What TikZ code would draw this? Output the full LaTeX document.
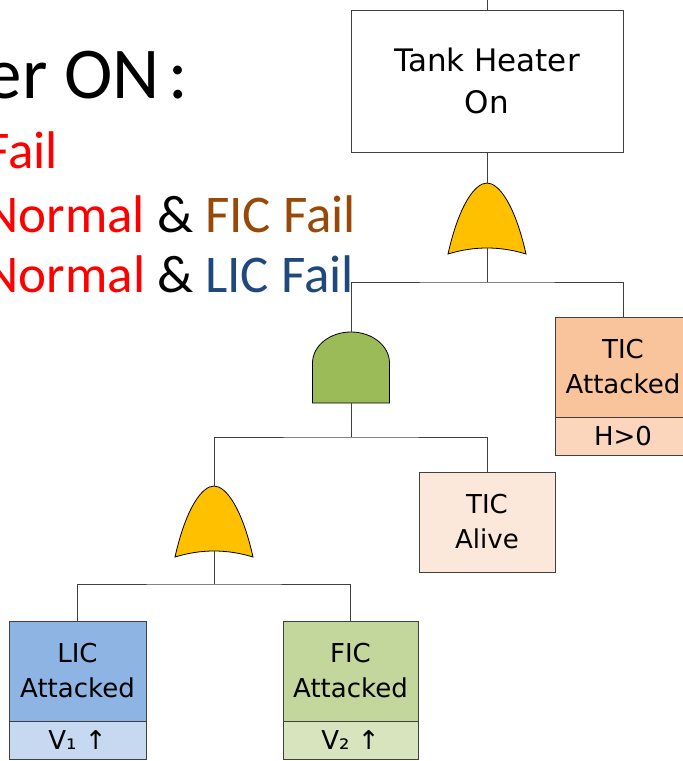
\documentclass[tikz,border=0pt]{standalone}
\usepackage{fontspec}
\newfontfamily\boxfont{DejaVu Sans}
\newfontfamily\calfont{Carlito}
\definecolor{orfill}{HTML}{FFC000}
\definecolor{andfill}{HTML}{9BBB59}
\definecolor{licA}{HTML}{8EB4E3}
\definecolor{licB}{HTML}{C6D9F1}
\definecolor{ficA}{HTML}{C3D69B}
\definecolor{ficB}{HTML}{D7E4BD}
\definecolor{ticA}{HTML}{F9C39C}
\definecolor{ticB}{HTML}{FBD6BC}
\definecolor{ticC}{HTML}{FCE8DA}
\definecolor{brownT}{HTML}{984807}
\definecolor{blueT}{HTML}{1F497D}
\definecolor{lineC}{HTML}{404040}
\tikzset{
  wire/.style={draw=lineC, line width=1pt},
  evbox/.style={draw=lineC, line width=1pt, rectangle, inner sep=0pt, outer sep=0pt,
    align=center, font=\boxfont\fontsize{26}{35}\selectfont},
  subbox/.style={evbox, minimum height=38pt},
  bigtxt/.style={anchor=base east, inner sep=0pt, font=\calfont\fontsize{73}{80}\selectfont},
  midtxt/.style={anchor=base east, inner sep=0pt, font=\calfont\fontsize{53}{60}\selectfont},
  orgate/.pic={
    \draw[fill=orfill, draw=black, line width=0.8pt]
      (-39,71) .. controls (-28,22) and (-12,0) .. (0,0)
      .. controls (12,0) and (28,22) .. (39,71)
      .. controls (13,63) and (-13,63) .. cycle;
  },
  andgate/.pic={
    \draw[fill=andfill, draw=black, line width=0.8pt]
      (-38.5,71) -- (-38.5,31)
      .. controls (-38.5,13.9) and (-21.3,0) .. (0,0)
      .. controls (21.3,0) and (38.5,13.9) .. (38.5,31)
      -- (38.5,71) -- cycle;
  }
}
\begin{document}
\begin{tikzpicture}[x=1pt, y=-1pt]
\useasboundingbox (0,0) rectangle (683,761);
\clip (0,0) rectangle (683,761);

% left text
\node[bigtxt] (t0) at (188,98) {er ON\hspace{0.12em}:};
\node[midtxt, text=red] (t1) at (58,168) {Fail};
\node[midtxt] (t2) at (356,232) {\textcolor{red}{Normal} \& \textcolor{brownT}{FIC Fail}};
\node[midtxt] (t3) at (354,292) {\textcolor{red}{Normal} \& \textcolor{blueT}{LIC Fail}};

% boxes
\node[evbox, minimum width=272pt, minimum height=142pt, font=\boxfont\fontsize{31}{42}\selectfont]
  (th) at (487,81) {Tank Heater\\On};
\node[evbox, fill=ticA, minimum width=136pt, minimum height=100pt] (tica) at (623,367) {TIC\\Attacked};
\node[subbox, fill=ticB, minimum width=136pt, anchor=north] (ticav) at (tica.south) {H>0};
\node[evbox, fill=ticC, minimum width=136pt, minimum height=100pt] (alive) at (487,522) {TIC\\Alive};
\node[evbox, fill=licA, minimum width=137pt, minimum height=100pt] (lic) at (77.5,671) {LIC\\Attacked};
\node[subbox, fill=licB, minimum width=137pt, anchor=north] (licv) at (lic.south) {V₁ ↑};
\node[evbox, fill=ficA, minimum width=135pt, minimum height=100pt] (fic) at (350.5,671) {FIC\\Attacked};
\node[subbox, fill=ficB, minimum width=135pt, anchor=north] (ficv) at (fic.south) {V₂ ↑};

% gates
\coordinate (topend) at (487,0);
\coordinate (or1top) at (487,183);
\coordinate (or1bot) at (487,248);
\coordinate (bus1) at (487,282);
\coordinate (andtop) at (351,332);
\coordinate (andbot) at (351,403);
\coordinate (bus2) at (351,437);
\coordinate (or2top) at (214,486);
\coordinate (or2bot) at (214,551);
\coordinate (bus3) at (214,584);
\pic at (or1top) {orgate};
\pic at (andtop) {andgate};
\pic at (or2top) {orgate};

% connectors
\draw[wire] (th.north) -- (topend);
\draw[wire] (th.south) -- (or1top);
\draw[wire] (or1bot) -- (bus1);
\draw[wire] (andtop) |- (bus1) -| (tica.north);
\draw[wire] (andbot) -- (bus2);
\draw[wire] (or2top) |- (bus2) -| (alive.north);
\draw[wire] (or2bot) -- (bus3);
\draw[wire] (lic.north) |- (bus3) -| (fic.north);
\end{tikzpicture}
\end{document}
